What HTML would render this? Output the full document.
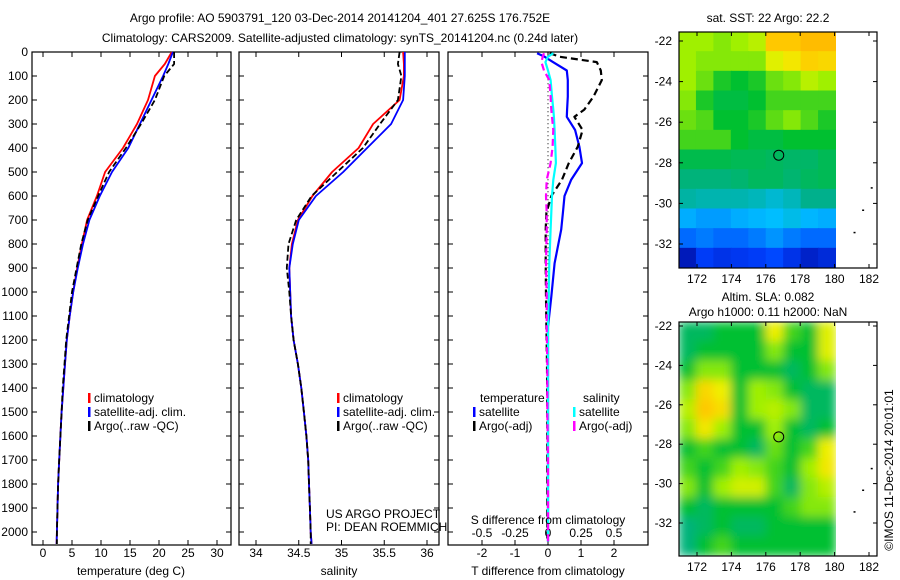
<!DOCTYPE html>
<html><head><meta charset="utf-8"><style>
body{margin:0;background:#fff}
svg{display:block}
text{font-family:"Liberation Sans",sans-serif;font-size:12px;fill:#000}
</style></head><body>
<svg id="fig" width="900" height="580" viewBox="0 0 900 580">
<g id="titles">
<text x="340" y="22" text-anchor="middle">Argo profile: AO 5903791_120 03-Dec-2014 20141204_401 27.625S 176.752E</text>
<text x="340" y="42" text-anchor="middle">Climatology: CARS2009. Satellite-adjusted climatology: synTS_20141204.nc (0.24d later)</text>
</g>
<g id="p1"></g>
<g id="p2"></g>
<g id="p3"></g>
<g id="m1"></g>
<g id="m2"></g>
<text x="326" y="518">US ARGO PROJECT</text>
<text x="326" y="531">PI: DEAN ROEMMICH</text>
<text transform="translate(893,470) rotate(-90)" text-anchor="middle">©IMOS 11-Dec-2014 20:01:01</text>
</svg>
<script>
const depths=[0,50,100,200,300,400,500,600,700,800,900,1000,1100,1200,1300,1400,1500,1600,1700,1800,1900,2000,2050];
const tempClim=[22.2,21.0,19.3,18.1,16.2,13.8,10.7,9.3,7.6,6.7,5.9,5.2,4.6,4.1,3.8,3.5,3.2,3.0,2.8,2.6,2.5,2.4,2.35];
const tempSat=[22.4,21.6,20.7,18.7,16.7,14.7,11.9,9.8,8.0,6.9,6.0,5.2,4.6,4.1,3.8,3.5,3.2,3.0,2.8,2.6,2.5,2.4,2.35];
const tempArgo=[22.6,22.6,20.9,19.3,16.9,14.3,11.4,9.5,7.7,6.6,5.8,5.0,4.5,4.0,3.7,3.4,3.2,3.0,2.8,2.6,2.5,2.4,2.4];
const salClim=[35.72,35.73,35.73,35.68,35.37,35.2,34.89,34.66,34.49,34.42,34.39,34.40,34.41,34.44,34.49,34.53,34.56,34.59,34.61,34.62,34.63,34.64,34.65];
const salSat=[35.74,35.74,35.74,35.72,35.58,35.3,35.02,34.7,34.5,34.43,34.39,34.40,34.41,34.44,34.49,34.53,34.56,34.59,34.61,34.62,34.63,34.64,34.65];
const salArgo=[35.68,35.66,35.70,35.66,35.45,35.25,34.95,34.65,34.47,34.38,34.36,34.39,34.41,34.44,34.49,34.53,34.56,34.59,34.61,34.62,34.63,34.64,34.64];
const diffDepths=[5,20,42,77,117,186,240,270,325,395,463,533,600,670,740,880,1020,1145,1300,1500,1700,1900,2040];
const dTsat=[-0.33,-0.1,0.15,0.57,0.6,0.6,0.58,0.57,0.82,0.95,1.03,0.7,0.5,0.45,0.4,0.2,0.1,0.0,0.0,0.0,0.0,0.0,0.0];
const dTargo=[0.05,0.36,1.48,1.6,1.63,1.38,1.1,0.8,1.05,0.9,0.63,0.42,0.1,-0.05,-0.07,-0.07,-0.06,-0.05,-0.03,-0.02,-0.02,-0.02,-0.02];
const dSsat=[0.04,0.0,-0.02,0.0,0.02,0.03,0.04,0.045,0.05,0.055,0.06,0.04,0.03,0.025,0.02,0.01,0.005,0.0,0.0,0.0,0.0,0.0,0.0];
const dSargo=[-0.03,-0.04,-0.05,-0.03,0.01,0.02,0.025,0.03,0.04,0.035,0.02,-0.01,-0.015,-0.01,-0.01,-0.015,-0.01,-0.01,-0.005,-0.005,0.0,0.0,0.0];
const depthTicks=[0,100,200,300,400,500,600,700,800,900,1000,1100,1200,1300,1400,1500,1600,1700,1800,1900,2000];
const tempTicks=[0,5,10,15,20,25,30];
const salTicks=[34,34.5,35,35.5,36];
const salTickLabels=["34","34.5","35","35.5","36"];
const dTTicks=[-2,-1,0,1,2];
const dSTicks=[-0.5,-0.25,0,0.25,0.5];
const dSTickLabels=["-0.5","-0.25","0","0.25","0.5"];
const sstGrid=[
[.62,.62,.6,.62,.65,.85,.85,.88,.88],
[.62,.6,.6,.6,.6,.7,.75,.82,.8],
[.62,.58,.52,.5,.52,.58,.6,.65,.62],
[.6,.52,.48,.48,.5,.55,.55,.55,.55],
[.58,.56,.5,.5,.52,.57,.6,.56,.52],
[.55,.55,.55,.5,.48,.48,.5,.5,.5],
[.47,.47,.47,.46,.46,.45,.44,.44,.46],
[.42,.42,.42,.43,.45,.45,.43,.45,.46],
[.38,.37,.37,.37,.36,.34,.36,.4,.4],
[.28,.26,.26,.28,.29,.3,.32,.29,.28],
[.2,.22,.2,.2,.22,.25,.22,.2,.2],
[.06,.14,.12,.13,.14,.16,.12,.08,.1]];
const slaGrid=[
[.45,.45,.5,.5,.5,.72,.55,.5,.7],
[.45,.5,.5,.5,.5,.6,.5,.5,.7],
[.5,.6,.6,.5,.5,.5,.45,.5,.6],
[.6,.8,.72,.5,.62,.6,.5,.45,.45],
[.65,.85,.78,.5,.62,.65,.6,.45,.45],
[.6,.75,.62,.5,.5,.62,.5,.45,.5],
[.5,.55,.5,.5,.45,.58,.5,.55,.72],
[.55,.5,.55,.62,.6,.55,.5,.62,.75],
[.6,.5,.62,.68,.68,.55,.45,.6,.65],
[.5,.45,.5,.5,.5,.5,.55,.6,.6],
[.42,.45,.5,.45,.45,.5,.5,.5,.5],
[.42,.5,.55,.5,.5,.5,.5,.5,.5]];
const lonTicks=[172,174,176,178,180,182];
const latTicks=[-22,-24,-26,-28,-30,-32];
const argoLon=176.752, argoLat=-27.625;

const NS="http://www.w3.org/2000/svg";
function mk(parent,tag,attrs){const e=document.createElementNS(NS,tag);for(const k in attrs)e.setAttribute(k,attrs[k]);parent.appendChild(e);return e;}
const yD=d=>52+d*0.24;
function frame(g,x0,x1,y0,y1){const r=mk(g,'rect',{x:x0,y:y0,width:x1-x0,height:y1-y0,fill:'none',stroke:'#000','stroke-width':1.2});

}
function xticks(g,ticks,labels,fx,y0,y1,ly){ticks.forEach((t,i)=>{const x=fx(t);
mk(g,'line',{x1:x,x2:x,y1:y0,y2:y0-5,stroke:'#000'});mk(g,'line',{x1:x,x2:x,y1:y1,y2:y1+5,stroke:'#000'});
if(ly){const tx=mk(g,'text',{x:x,y:ly,'text-anchor':'middle'});tx.textContent=labels[i];

}});}
function yticks(g,x0,x1,label){depthTicks.forEach(d=>{const y=yD(d);
mk(g,'line',{x1:x0,x2:x0+5,y1:y,y2:y,stroke:'#000'});mk(g,'line',{x1:x1,x2:x1-5,y1:y,y2:y,stroke:'#000'});
if(label){const t=mk(g,'text',{x:28,y:y+4,'text-anchor':'end'});t.textContent=d;

}});}
function line(g,xs,ys,fx,color,dash,w,name){const p=xs.map((v,i)=>fx(v).toFixed(1)+','+yD(ys[i]).toFixed(1)).join(' ');
const e=mk(g,'polyline',{points:p,fill:'none',stroke:color,'stroke-width':w||2,'stroke-dasharray':dash||'none','stroke-linejoin':'round'});

}
function legend(g,x,y,items){items.forEach((it,i)=>{mk(g,'rect',{x:x,y:y+i*14-9,width:2.5,height:10,fill:it[0]});
const t=mk(g,'text',{x:x+6,y:y+i*14});t.textContent=it[1];

});}
function txt(g,x,y,s,anchor,name){const t=mk(g,'text',{x:x,y:y,'text-anchor':anchor||'middle'});t.textContent=s;

}

// Panel 1
{const g=document.getElementById('p1');const fx=v=>43+v*5.8;
frame(g,32,231,52,545);xticks(g,tempTicks,tempTicks,fx,545,52,557);yticks(g,32,231,true);
line(g,tempClim,depths,fx,'#ff0000',null,1.8,'climatology-temperature-line');
line(g,tempSat,depths,fx,'#0000ff',null,1.8,'satellite-temperature-line');
line(g,tempArgo,depths,fx,'#000','6,3',1.8,'argo-temperature-line');
legend(g,88,402,[['#f00','climatology'],['#00f','satellite-adj. clim.'],['#000','Argo(..raw -QC)']]);
txt(g,131,575,'temperature (deg C)','middle','temperature-axis-title');}
// Panel 2
{const g=document.getElementById('p2');const fx=v=>256+(v-34)*85.5;
frame(g,239,439,52,545);xticks(g,salTicks,salTickLabels,fx,545,52,557);yticks(g,239,439,false);
line(g,salClim,depths,fx,'#ff0000',null,1.8,'climatology-salinity-line');
line(g,salSat,depths,fx,'#0000ff',null,1.8,'satellite-salinity-line');
line(g,salArgo,depths,fx,'#000','6,3',1.8,'argo-salinity-line');
legend(g,337,402,[['#f00','climatology'],['#00f','satellite-adj. clim.'],['#000','Argo(..raw -QC)']]);
txt(g,339,575,'salinity','middle','salinity-axis-title');}
// Panel 3
{const g=document.getElementById('p3');const fT=v=>548+v*33, fS=v=>548+v*132;
frame(g,448,648,52,545);xticks(g,dTTicks,dTTicks,fT,545,52,557);yticks(g,448,648,false);
dSTicks.forEach((t,i)=>{const x=fS(t);mk(g,'line',{x1:x,x2:x,y1:545,y2:540,stroke:'#000'});txt(g,x,537,dSTickLabels[i],'middle','s-tick-label');});
mk(g,'line',{x1:548,x2:548,y1:yD(80),y2:yD(1100),stroke:'#000','stroke-dasharray':'1,3'});
line(g,dTsat,diffDepths,fT,'#0000ff',null,2.2,'satellite-t-diff-line');
line(g,dTargo,diffDepths,fT,'#000','7,4',2.2,'argo-t-diff-line');
line(g,dSsat,diffDepths,fS,'#00ffff',null,2.2,'satellite-s-diff-line');
line(g,dSargo,diffDepths,fS,'#ff00ff','7,4',2.2,'argo-s-diff-line');
txt(g,480,402,'temperature','start','legend-temperature-header');
txt(g,583,402,'salinity','start','legend-salinity-header');
legend(g,473,416,[['#00f','satellite'],['#000','Argo(-adj)']]);
legend(g,573,416,[['#0ff','satellite'],['#f0f','Argo(-adj)']]);
txt(g,548,524,'S difference from climatology','middle','s-diff-axis-title');
txt(g,548,575,'T difference from climatology','middle','t-diff-axis-title');}
// Maps
const stops=[[0,[0,0,140]],[.15,[0,64,255]],[.3,[0,190,255]],[.4,[0,176,140]],[.5,[0,192,48]],[.62,[160,240,0]],[.72,[240,240,0]],[.85,[255,200,0]],[1,[255,140,0]]];
function cmap(v){for(let i=1;i<stops.length;i++){if(v<=stops[i][0]){const a=stops[i-1],b=stops[i];const t=(v-a[0])/(b[0]-a[0]);
return 'rgb('+a[1].map((c,k)=>Math.round(c+(b[1][k]-c)*t)).join(',')+')';}}return 'rgb(255,140,0)';}
function map(id,grid,top,bottom,lat22y,pxPerDeg,blur){const g=document.getElementById(id);
const fx=lon=>697+(lon-172)*17.2, fy=lat=>lat22y+(-22-lat)*pxPerDeg;
const x0=679,x1=877;const dataR=836;
const nr=grid.length,nc=grid[0].length;const cw=(dataR-x0)/nc,ch=(bottom-top)/nr;
const cg=mk(g,'g',blur?{filter:'url(#bl)'}:{});
const clip=mk(g,'clipPath',{id:id+'c'});mk(clip,'rect',{x:x0,y:top,width:dataR-x0,height:bottom-top});
cg.setAttribute('clip-path','url(#'+id+'c)');
grid.forEach((row,r)=>row.forEach((v,c)=>{const e=mk(cg,'rect',{x:x0+c*cw-0.5,y:top+r*ch-0.5,width:cw+1,height:ch+1,fill:cmap(v)});

}));
frame(g,x0,x1,top,bottom);
lonTicks.forEach(l=>{const x=fx(l);mk(g,'line',{x1:x,x2:x,y1:top,y2:top+4,stroke:'#000'});mk(g,'line',{x1:x,x2:x,y1:bottom,y2:bottom-4,stroke:'#000'});
txt(g,x,bottom+15,String(l),'middle','lon-tick-label');});
latTicks.forEach(l=>{const y=fy(l);mk(g,'line',{x1:x0,x2:x0+4,y1:y,y2:y,stroke:'#000'});mk(g,'line',{x1:x1,x2:x1-4,y1:y,y2:y,stroke:'#000'});
txt(g,672,y+4,String(l),'end','lat-tick-label');});
const c=mk(g,'circle',{cx:fx(argoLon),cy:fy(argoLat),r:5,fill:'none',stroke:'#000'});


[[181.1,-31.4],[181.6,-30.3],[182.1,-29.2]].forEach(p=>mk(g,'rect',{x:fx(p[0]),y:fy(p[1]),width:2,height:1.5,fill:'#000'}));}
const defs=mk(document.getElementById('fig'),'defs',{});const f=mk(defs,'filter',{id:'bl',x:0,y:0,width:1,height:1});mk(f,'feGaussianBlur',{stdDeviation:5,edgeMode:'duplicate'});
map('m1',sstGrid,32,268,41,20.3,false);
map('m2',slaGrid,322,556,326,19.7,true);
txt(document.getElementById('m1'),768,22,'sat. SST: 22 Argo: 22.2','middle','sst-map-title');
txt(document.getElementById('m2'),768,301,'Altim. SLA: 0.082','middle','sla-map-title');
txt(document.getElementById('m2'),768,316,'Argo h1000: 0.11 h2000: NaN','middle','sla-map-subtitle');
</script>
</body></html>
